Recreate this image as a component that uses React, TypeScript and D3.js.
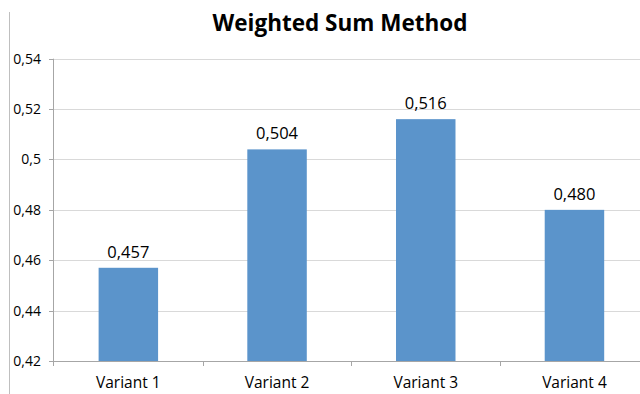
import React from "react";
import * as d3 from "d3";

const categories = ["Variant 1", "Variant 2", "Variant 3", "Variant 4"];
const values = [0.457, 0.504, 0.516, 0.48];
const yTicks = [0.42, 0.44, 0.46, 0.48, 0.5, 0.52, 0.54];
const title = "Weighted Sum Method";

const W = 640;
const H = 394;
const FONT = "'Open Sans', 'Liberation Sans', sans-serif";

export default function App() {
  const left = 54;
  const right = 648.8;
  const top = 58.7;
  const bottom = 361;
  const x = d3.scaleBand<string>().domain(categories).range([left, right]).paddingInner(0.6).paddingOuter(0.3);
  const band = d3.scaleBand<string>().domain(categories).range([left, right]);
  const y = d3.scaleLinear().domain([0.42, 0.54]).range([bottom, top]);
  const fmtTick = (v: number) => d3.format("")(+v.toFixed(2)).replace(".", ",");
  const fmtVal = (v: number) => d3.format(".3f")(v).replace(".", ",");

  return (
    <svg width={W} height={H} style={{ position: "absolute", left: 0, top: 0, background: "#fff" }}>
      <rect x={0} y={0} width={W} height={H} fill="#fff" />
      <line x1={9.5} x2={9.5} y1={12} y2={H} stroke="#bfbfbf" />
      <text x={340} y={31} textAnchor="middle" fontFamily={FONT} fontWeight="bold" fontSize={22.5} fill="#000">
        {title}
      </text>
      {yTicks.map((t) => (
        <g key={t}>
          <line x1={left} x2={W} y1={Math.round(y(t)) + 0.5} y2={Math.round(y(t)) + 0.5} stroke="#d9d9d9" />
          <line x1={left - 5} x2={left} y1={Math.round(y(t)) + 0.5} y2={Math.round(y(t)) + 0.5} stroke="#a6a6a6" />
          <text x={41} y={y(t) + 5} textAnchor="end" fontFamily={FONT} fontSize={14} fill="#000">
            {fmtTick(t)}
          </text>
        </g>
      ))}
      <line x1={Math.round(left) - 0.5} x2={Math.round(left) - 0.5} y1={top} y2={bottom + 5} stroke="#a6a6a6" />
      <line x1={left} x2={W} y1={Math.round(bottom) + 0.5} y2={Math.round(bottom) + 0.5} stroke="#a6a6a6" />
      {categories.map((c) => (
        <line key={"t" + c} x1={Math.round(band(c)! + band.bandwidth()) + 0.5} x2={Math.round(band(c)! + band.bandwidth()) + 0.5} y1={bottom} y2={bottom + 5} stroke="#a6a6a6" />
      ))}
      {categories.map((c, i) => (
        <g key={c}>
          <rect x={x(c)!} y={y(values[i])} width={x.bandwidth()} height={bottom - y(values[i])} fill="#5b94cb" />
          <text x={x(c)! + x.bandwidth() / 2} y={y(values[i]) - 10} textAnchor="middle" fontFamily={FONT} fontSize={16.5} fill="#000">
            {fmtVal(values[i])}
          </text>
          <text x={band(c)! + band.bandwidth() / 2} y={bottom + 27} textAnchor="middle" fontFamily={FONT} fontSize={15.5} fill="#000">
            {c}
          </text>
        </g>
      ))}
    </svg>
  );
}
